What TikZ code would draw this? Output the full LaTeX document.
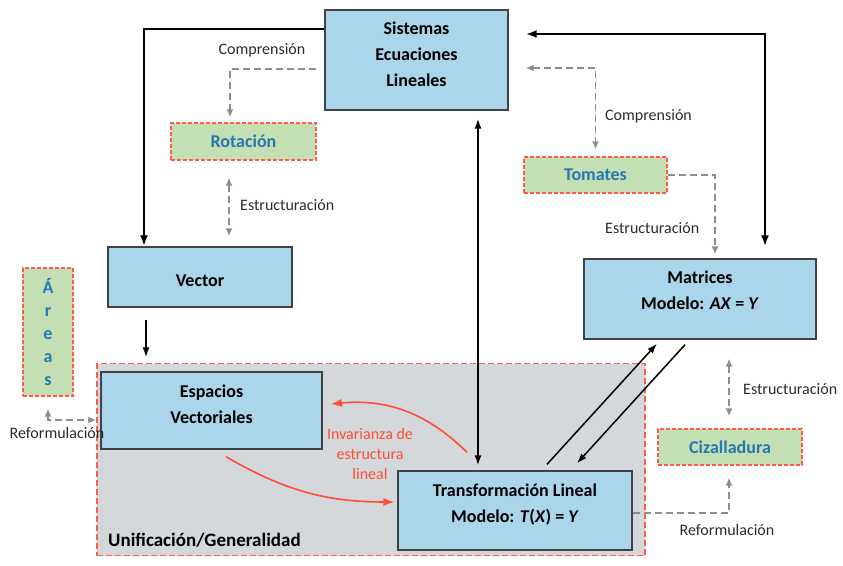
\documentclass[tikz,border=0pt]{standalone}
\usepackage{fontspec}
\setmainfont{Carlito}
\usepackage{tikz}
\usetikzlibrary{arrows.meta,shapes}

\definecolor{conceptblue}{HTML}{ABD5EB}
\definecolor{conceptedge}{HTML}{3F4246}
\definecolor{contextgreen}{HTML}{C4DFB4}
\definecolor{contextred}{HTML}{FF5A4A}
\definecolor{contexttext}{HTML}{2777B0}
\definecolor{regiongray}{HTML}{D5D8DB}
\definecolor{processgray}{HTML}{8C8C8C}
\definecolor{invred}{HTML}{FF4D36}
\definecolor{tagtext}{HTML}{2B2B2B}

\begin{document}
\begin{tikzpicture}
[x=1pt,y=-1pt]
\tikzset{
	concept/.style = {draw=conceptedge, line width=1.4pt, fill=conceptblue, inner sep=0, align=center, font=\bfseries\fontsize{18}{26}\selectfont},
	context/.style = {draw=contextred, dash pattern=on 4pt off 2pt, line width=1.3pt, fill=contextgreen, inner sep=0, align=center, text=contexttext, font=\bfseries\fontsize{18}{23}\selectfont},
	region/.style = {draw=contextred, dash pattern=on 6pt off 3pt, line width=1.3pt, fill=regiongray, inner sep=0},
	heavy/.style = {line width=2.2pt, -{Latex[length=11pt,width=8pt]}},
	link/.style = {line width=1.5pt, -{Latex[length=10pt,width=7pt]}},
	process/.style = {draw=processgray, line width=1.8pt, dash pattern=on 7pt off 4pt, -{Latex[length=8pt,width=7pt]}},
	invariance/.style = {draw=invred, line width=1.6pt, -{Latex[length=11pt,width=8pt]}},
	tag/.style = {inner sep=0, text=tagtext, font=\fontsize{16}{20}\selectfont}
}

\useasboundingbox (0,0) rectangle (843,565);

\node (unif) [region, minimum width=548pt, minimum height=192pt] at (371,459.5) {};

\node (sis) [concept, minimum width=183pt, minimum height=100pt, text depth=11pt] at (416.5,60) {Sistemas\\Ecuaciones\\Lineales};
\node (vec) [concept, minimum width=184pt, minimum height=60pt, text height=20pt] at (200,277) {Vector};
\node (esp) [concept, minimum width=221pt, minimum height=77pt, text depth=12pt] at (211.5,410.5) {Espacios\\Vectoriales};
\node (tra) [concept, minimum width=234pt, minimum height=79pt, text depth=14pt] at (515,510.5) {Transformación Lineal\\Modelo: \textit{T}(\textit{X}) = \textit{Y}};
\node (mat) [concept, minimum width=232pt, minimum height=80pt, text depth=18pt] at (700,299) {Matrices\\Modelo: \textit{AX} = \textit{Y}};

\node (rot) [context, minimum width=145pt, minimum height=37pt] at (243.5,141.5) {Rotación};
\node (tom) [context, minimum width=143pt, minimum height=36pt] at (595.5,175) {Tomates};
\node (ciz) [context, minimum width=144pt, minimum height=36pt] at (730,447) {Cizalladura};
\node (are) [context, minimum width=50pt, minimum height=128pt] at (48,332) {Á\\r\\e\\a\\s};

\draw [heavy] ([yshift=31pt]sis.west) -| (vec.north -| 144,0);
\draw [heavy, {Latex[length=11pt,width=8pt]}-{Latex[length=11pt,width=8pt]}] ([xshift=65pt,yshift=12pt]mat.north) |- ([xshift=17pt,yshift=26pt]sis.east);
\draw [link, {Latex[length=10pt,width=7pt]}-{Latex[length=10pt,width=7pt]}] ([xshift=61.5pt,yshift=-8pt]sis.south) -- ([xshift=-37pt,yshift=5pt]tra.north);
\draw [link] ([xshift=-54pt,yshift=-12pt]vec.south) -- ([xshift=-65.5pt,yshift=14pt]esp.north);
\draw [link] ([xshift=32pt,yshift=6pt]tra.north) -- ([xshift=-43pt,yshift=-4pt]mat.south);
\draw [link] ([xshift=-15pt,yshift=-5pt]mat.south) -- ([xshift=62pt,yshift=7pt]tra.north);

\draw [process] ([xshift=-8pt,yshift=-9pt]sis.west) -| ([xshift=-13.5pt,yshift=5pt]rot.north);
\draw [process, {Latex[length=8pt,width=7pt]}-{Latex[length=8pt,width=7pt]}] ([xshift=-14.5pt,yshift=-17pt]rot.south) -- ([xshift=29pt,yshift=10pt]vec.north);
\draw [process, {Latex[length=8pt,width=7pt]}-{Latex[length=8pt,width=7pt]}] ([xshift=17pt,yshift=-8pt]sis.east) -| ([yshift=7pt]tom.north);
\draw [process] (tom.east) -| ([xshift=15pt,yshift=4pt]mat.north);
\draw [process, {Latex[length=8pt,width=7pt]}-{Latex[length=8pt,width=7pt]}] ([xshift=29pt,yshift=-19pt]mat.south) -- ([xshift=-1pt,yshift=12pt]ciz.north);
\draw [process] ([yshift=-2.5pt]tra.east) -| ([xshift=-1pt,yshift=-12pt]ciz.south);
\draw [process, {Latex[length=8pt,width=7pt]}-{Latex[length=8pt,width=7pt]}] ([yshift=-12pt]are.south) |- ([xshift=-4pt,yshift=-9.5pt]esp.west);

\draw [invariance] ([xshift=14.5pt,yshift=-7pt]esp.south) to[bend right=15] ([xshift=-3pt,yshift=8.5pt]tra.west);
\draw [invariance] ([xshift=-48pt,yshift=18pt]tra.north) to[bend right=25] ([xshift=8pt,yshift=6.5pt]esp.east);

\node (inv) [inner sep=0, align=center, text=invred, font=\fontsize{16}{20}\selectfont] at (370,454) {Invarianza de\\estructura\\lineal};
\node (gen) [anchor=west, inner sep=0, font=\bfseries\fontsize{19}{22}\selectfont] at (108,540) {Unificación/Generalidad};

\node (comp1) [tag] at (262,50) {Comprensión};
\node (estr1) [tag, anchor=west] at (240,205) {Estructuración};
\node (comp2) [tag, anchor=west] at (605,116) {Comprensión};
\node (estr2) [tag, anchor=west] at (605,228) {Estructuración};
\node (estr3) [tag, anchor=west] at (743,389) {Estructuración};
\node (refo1) [tag] at (57,433) {Reformulación};
\node (refo2) [tag] at (727,530) {Reformulación};
\end{tikzpicture}
\end{document}
